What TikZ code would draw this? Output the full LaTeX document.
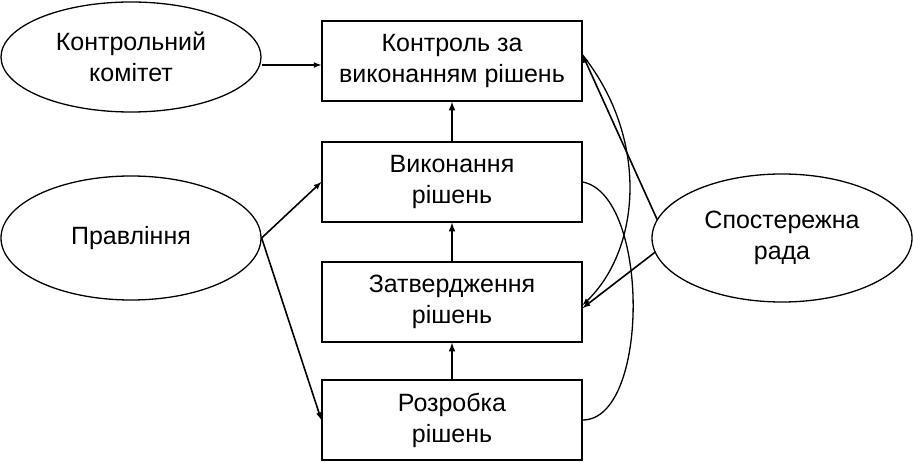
\documentclass[tikz,border=0pt]{standalone}
\usepackage{fontspec}
\setmainfont{Liberation Sans}
\usetikzlibrary{shapes.geometric}
\begin{document}
\begin{tikzpicture}[x=1pt,y=-1pt]
	\tikzstyle{block} = [draw=black, line width=1.3pt, minimum width=260pt, minimum height=80pt, align=center, font=\fontsize{25}{31}\selectfont]
	\tikzstyle{actor} = [draw=black, line width=1.3pt, ellipse, minimum width=260pt, align=center, font=\fontsize{25}{31}\selectfont]
	\useasboundingbox (0,0) rectangle (913,462);

%------------------------------------------------------------
	\node[block] (ctrl) at (452,61) {Контроль за\\виконанням рішень};
	\node[block] (exec) at (452,182) {Виконання\\рішень};
	\node[block] (appr) at (452,302) {Затвердження\\рішень};
	\node[block] (dev)  at (452,420) {Розробка\\рішень};

	\node[actor, minimum height=110pt] (cmt)   at (131,57)  {Контрольний\\комітет};
	\node[actor, minimum height=124pt] (board) at (131,238) {Правління};
	\node[actor, minimum height=128pt] (sup)   at (782,238) {Спостережна\\рада};

%------------------------------------------------------------
	\path[-latex, line width=2pt] (dev) edge (appr);
	\path[-latex, line width=2pt] (appr) edge (exec);
	\path[-latex, line width=2pt] (exec) edge (ctrl);

	\path[-latex, line width=1.6pt] (cmt.east |- 0,65) edge (ctrl.west |- 0,65);
	\path[-latex, line width=1.6pt] (board.east) edge (exec.west);
	\path[-latex, line width=1.6pt] (board.east) edge (dev.west);

	\path[-latex, line width=1.6pt] (sup.west) ++(6,-18) coordinate (s1) edge (ctrl.east |- 0,55);
	\path[-latex, line width=1.6pt] (sup.west) ++(4,14) coordinate (s2) edge (appr.east |- 0,308);

%------------------------------------------------------------
	\draw[-latex, line width=1.3pt] (ctrl.east |- 0,55) .. controls (650,140) and (640,250) .. (appr.east |- 0,305);
	\draw[line width=1.3pt] (exec.east) .. controls (650,195) and (650,420) .. (dev.east);

	\end{tikzpicture}
\end{document}
